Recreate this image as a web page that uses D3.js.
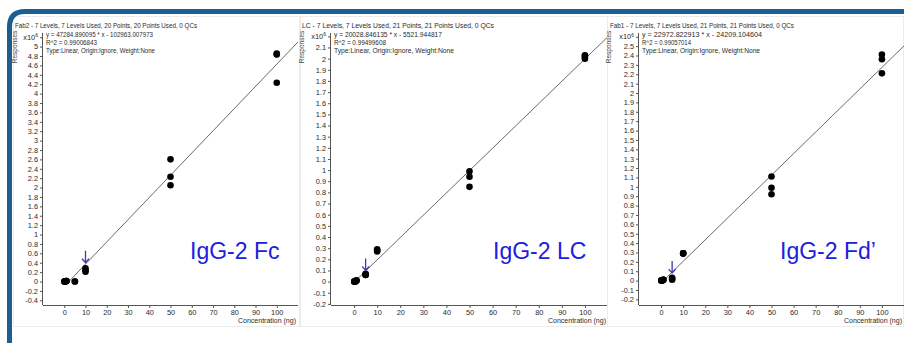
<!DOCTYPE html>
<html>
<head>
<meta charset="utf-8">
<script src="https://cdn.jsdelivr.net/npm/d3@7"></script>
<style>
  body { margin: 0; background: #fff; }
  svg { display: block; }
  text { font-family: "Liberation Sans", Arial, sans-serif; }
</style>
</head>
<body>
<div id="chart"></div>
<script>
// panel titles and fit text, as printed in each screenshot
const titles = [
  'Fab2 - 7 Levels, 7 Levels Used, 20 Points, 20 Points Used, 0 QCs',
  'LC - 7 Levels, 7 Levels Used, 21 Points, 21 Points Used, 0 QCs',
  'Fab1 - 7 Levels, 7 Levels Used, 21 Points, 21 Points Used, 0 QCs'
];
const equations = [
  'y = 47284.890095 * x  - 102963.007973',
  'y = 20028.846135 * x  - 5521.944817',
  'y = 22972.822913 * x  - 24209.104604'
];
const r2Text = ['R^2 = 0.99006843', 'R^2 = 0.99499608', 'R^2 = 0.99057014'];
const typeText = 'Type:Linear, Origin:Ignore, Weight:None';
const bigLabels = ['IgG-2 Fc', 'IgG-2 LC', 'IgG-2 Fd\u2019'];

// regression (responses in units of 10^6)
const slopes = [0.047284890095, 0.020028846135, 0.022972822913];
const intercepts = [-0.102963007973, -0.005521944817, -0.024209104604];

// tick labels
const xTicks = [0, 10, 20, 30, 40, 50, 60, 70, 80, 90, 100];
const fab2YTicks = [-0.4, -0.2, 0, 0.2, 0.4, 0.6, 0.8, 1, 1.2, 1.4, 1.6, 1.8, 2, 2.2, 2.4, 2.6,
  2.8, 3, 3.2, 3.4, 3.6, 3.8, 4, 4.2, 4.4, 4.6, 4.8, 5];
const lcYTicks = [-0.2, -0.1, 0, 0.1, 0.2, 0.3, 0.4, 0.5, 0.6, 0.7, 0.8, 0.9, 1, 1.1, 1.2, 1.3,
  1.4, 1.5, 1.6, 1.7, 1.8, 1.9, 2, 2.1];
const fab1YTicks = [-0.2, -0.1, 0, 0.1, 0.2, 0.3, 0.4, 0.5, 0.6, 0.7, 0.8, 0.9, 1, 1.1, 1.2, 1.3,
  1.4, 1.5, 1.6, 1.7, 1.8, 1.9, 2, 2.1, 2.2, 2.3, 2.4, 2.5];
const topTicks = [5.2, 2.2, 2.6]; // labelled x10^6

// calibration points (ng, response x10^6)
const fab2Conc = [0.1, 0.1, 0.1, 0.5, 0.5, 0.5, 1, 1, 1, 5, 5, 10, 10, 10, 50, 50, 50, 100, 100, 100];
const fab2Resp = [0, 0, 0, 0, 0, 0, 0.01, 0.01, 0.01, 0, 0, 0.28, 0.24, 0.21, 2.6, 2.23, 2.05, 4.85, 4.83, 4.23];
const lcConc = [0.1, 0.1, 0.1, 0.5, 0.5, 0.5, 1, 1, 1, 5, 5, 5, 10, 10, 10, 50, 50, 50, 100, 100, 100];
const lcResp = [0, 0, 0, 0, 0, 0, 0.01, 0.01, 0.01, 0.07, 0.06, 0.06, 0.29, 0.28, 0.27, 0.99, 0.94, 0.85, 2.03, 2.02, 2.0];
const fab1Conc = [0.1, 0.1, 0.1, 0.5, 0.5, 0.5, 1, 1, 1, 5, 5, 5, 10, 10, 10, 50, 50, 50, 100, 100, 100];
const fab1Resp = [0, 0, 0, 0, 0, 0, 0.01, 0.01, 0.01, 0.03, 0.02, 0.01, 0.29, 0.29, 0.29, 1.11, 0.99, 0.92, 2.41, 2.36, 2.21];

// arrows marking the LLOQ point (tip position)
const arrowConc = [10, 5, 5];
const arrowResp = [0.4, 0.1, 0.08];

const W = 904, H = 343;
const svg = d3.select('#chart').append('svg').attr('width', W).attr('height', H);

// layout of each screenshot panel (text widths follow each screenshot's scaling)
const layout = [
  {left: 13, right: 300, x0: 43, x1: 298, yDom: [-0.5, 5.29], yTicks: fab2YTicks, conc: fab2Conc, resp: fab2Resp,
    labelX: 190, titleW: 182, textW: [107, 51, 109]},
  {left: 300, right: 610, x0: 331, x1: 608, yDom: [-0.21, 2.23], yTicks: lcYTicks, conc: lcConc, resp: lcResp,
    labelX: 493, titleW: 192, textW: [108, 52, 120]},
  {left: 607, right: 904, x0: 639, x1: 904, yDom: [-0.26, 2.64], yTicks: fab1YTicks, conc: fab1Conc, resp: fab1Resp,
    labelX: 780, titleW: 184, textW: [120, 49, 118]}
];
const plotTop = 33, plotBottom = 305;
const fmt = (v) => `${+v.toFixed(2)}`;
const ink = '#2b2b2b';

layout.forEach((p, i) => {
  const g = svg.append('g');

  // faint screenshot edge
  g.append('rect')
    .attr('x', p.left + 0.5).attr('y', 16.5)
    .attr('width', p.right - p.left - 1).attr('height', 310)
    .attr('fill', '#fff').attr('stroke', '#ececec');

  const x = d3.scaleLinear().domain([-10, 110]).range([p.x0, p.x1]);
  const y = d3.scaleLinear().domain(p.yDom).range([plotBottom, plotTop]);

  // title
  g.append('text')
    .attr('x', i === 2 ? p.left + 3 : p.left + 2).attr('y', 28)
    .attr('font-size', 8).attr('fill', ink)
    .attr('textLength', p.titleW).attr('lengthAdjust', 'spacingAndGlyphs')
    .text(titles[i]);

  // y axis
  const yAxis = d3.axisLeft(y).tickValues(p.yTicks.concat([topTicks[i]])).tickSize(3).tickPadding(2)
    .tickFormat((d) => d === topTicks[i] ? '' : fmt(d));
  const ya = g.append('g').attr('transform', `translate(${p.x0},0)`).call(yAxis);
  ya.select('.domain').attr('d', `M-0.5,${plotTop}V${plotBottom}`).attr('stroke', '#555');
  ya.selectAll('.tick line').attr('stroke', '#555');
  ya.selectAll('.tick text').attr('font-size', 7.4).attr('fill', ink)
    .attr('font-family', '"Liberation Sans", Arial, sans-serif');

  // x10^6 label at the top tick
  const ex = g.append('text')
    .attr('x', p.x0 - 5).attr('y', y(topTicks[i]) + 2.5)
    .attr('text-anchor', 'end').attr('font-size', 7.4).attr('fill', ink);
  ex.append('tspan').text('x10');
  ex.append('tspan').attr('font-size', 5).attr('dy', -2.5).text('6');

  // Responses label
  g.append('text')
    .attr('transform', `translate(${p.left + 4},${47}) rotate(-90)`)
    .attr('text-anchor', 'middle').attr('font-size', 6.5).attr('fill', '#444')
    .text('Responses');

  // x axis
  const xAxis = d3.axisBottom(x).tickValues(xTicks).tickSize(3).tickPadding(2);
  const xa = g.append('g').attr('transform', `translate(0,${plotBottom})`).call(xAxis);
  xa.select('.domain').attr('d', `M${p.x0},0.5H${p.x1}`).attr('stroke', '#555');
  xa.selectAll('.tick line').attr('stroke', '#555');
  xa.selectAll('.tick text').attr('font-size', 7.4).attr('fill', ink)
    .attr('font-family', '"Liberation Sans", Arial, sans-serif');

  g.append('text')
    .attr('x', p.x1 - 2).attr('y', 323)
    .attr('text-anchor', 'end').attr('font-size', 7).attr('fill', ink)
    .text('Concentration (ng)');

  // fit text
  [equations[i], r2Text[i], typeText].forEach((t, k) => {
    g.append('text')
      .attr('x', p.x0 + 3).attr('y', 37 + k * 8)
      .attr('font-size', 7.8).attr('fill', ink)
      .attr('textLength', p.textW[k]).attr('lengthAdjust', 'spacingAndGlyphs')
      .text(t);
  });

  // regression line, from the x intercept to the right edge
  const xStart = -intercepts[i] / slopes[i];
  const fit = d3.line().x((d) => x(d)).y((d) => y(slopes[i] * d + intercepts[i]));
  g.append('path')
    .attr('d', fit([xStart, 110]))
    .attr('fill', 'none').attr('stroke', '#6a6a6a').attr('stroke-width', 1);

  // points
  g.selectAll('circle.pt')
    .data(p.conc)
    .enter()
    .append('circle')
    .attr('class', 'pt')
    .attr('cx', (d) => x(d))
    .attr('cy', (d, j) => y(p.resp[j]))
    .attr('r', 3.3)
    .attr('fill', '#000');

  // arrow
  const ax = x(arrowConc[i]), ay = y(arrowResp[i]);
  g.append('path')
    .attr('d', `M${ax},${ay - 12}V${ay}M${ax - 3.5},${ay - 4}L${ax},${ay}L${ax + 3.5},${ay - 4}`)
    .attr('fill', 'none').attr('stroke', '#3b3bb0').attr('stroke-width', 1.3);

  // big label
  g.append('text')
    .attr('x', p.labelX).attr('y', 259)
    .attr('font-family', 'Lato, "Open Sans", sans-serif')
    .attr('font-size', 23).attr('fill', '#2020dc')
    .text(bigLabels[i]);
});

// slide frame
svg.append('path')
  .attr('d', `M9.5,${H}V27Q9.5,11.5 25,11.5H${W}`)
  .attr('fill', 'none').attr('stroke', '#1b5e91').attr('stroke-width', 5);
</script>
</body>
</html>
